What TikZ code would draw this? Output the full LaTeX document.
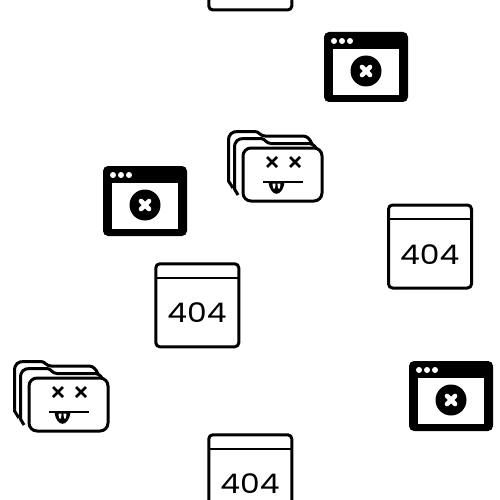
\documentclass[tikz,border=0pt]{standalone}
\usepackage{fontspec}
\setmainfont{Poppins}
\usetikzlibrary{positioning, calc}

\tikzset{
	outline/.style={draw=black, line width=3pt, line join=round},
	% page with a header bar
	pageframe/.pic={
		\draw[outline, rounded corners=4pt] (0,0) rectangle (83,83);
		\draw[outline, line width=2.6pt] (0,14) -- (83,14);
	},
	% the same page with the code
	notfound/.pic={
		\pic {pageframe};
		\node[anchor=base, inner sep=0pt, font=\fontsize{27}{27}\selectfont] (code) at (41.2,59) {\scalebox{1.16}[1]{404}};
	},
	% black browser window with the cross
	errorwin/.pic={
		\fill[black, rounded corners=5pt] (0,0) rectangle (84,70);
		\fill[white] (9,17) rectangle (75,63);
		\foreach \dotx in {10,18,26} {
			\fill[white] (\dotx,9) circle (3);
		}
		\fill[black] (42,39) circle (15.5);
		\draw[white, line width=4.6pt, line cap=round] (38,35) -- (46,43);
		\draw[white, line width=4.6pt, line cap=round] (46,35) -- (38,43);
	},
	% stack of folders with the dead face
	deadfolder/.pic={
		% back folder
		\draw[outline] (6,57) -- (1.5,50) -- (1.5,10) .. controls (1.5,3) and (5,0.5) .. (11,0.5) -- (28,0.5) .. controls (32,0.5) and (33,5) .. (38,5) -- (76,5) .. controls (80,5) and (83,8) .. (85,13);
		% middle folder
		\draw[outline] (11,64) -- (7.5,58) -- (7.5,17) .. controls (7.5,10) and (11,7.5) .. (17,7.5) -- (34,7.5) .. controls (38,7.5) and (39,12.5) .. (44,12.5) -- (81,12.5) .. controls (85,12.5) and (87,14) .. (89,17);
		% front folder
		\draw[outline, fill=white, rounded corners=8pt] (16,17) rectangle (95,70);
		% eyes
		\foreach \eyex in {45,68} {
			\draw[line width=2.8pt] (\eyex-5,26) -- (\eyex+5,36);
			\draw[line width=2.8pt] (\eyex+5,26) -- (\eyex-5,36);
		}
		% mouth and tongue
		\draw[line width=2.6pt] (36,51) -- (76,51);
		\draw[fill=black, line width=1pt] (42,51) .. controls (44,66) and (55,66) .. (57,51) -- cycle;
		\fill[white] (45.5,52.5) .. controls (46,60) and (48,60) .. (48.6,52.5) -- cycle;
		\fill[white] (50.4,52.5) .. controls (51,60) and (53,60) .. (53.5,52.5) -- cycle;
	}
}

\begin{document}
\begin{tikzpicture}[x=1pt, y=-1pt]

	% Fix the frame
	\clip (0,0) rectangle (500,500);
	\fill[white] (0,0) rectangle (500,500);

	% The 404 pages
	\pic (pageA) at (208.8,-73) {pageframe};
	\pic (pageB) at (388.5,205) {notfound};
	\pic (pageC) at (155.8,263.8) {notfound};
	\pic (pageD) at (208.8,434.8) {notfound};

	% The black windows
	\pic (winA) at (324,32) {errorwin};
	\pic (winB) at (103,166) {errorwin};
	\pic (winC) at (409,361) {errorwin};

	% The folders
	\pic (folderA) at (227,131) {deadfolder};
	\pic (folderB) at (13,361) {deadfolder};

\end{tikzpicture}
\end{document}
